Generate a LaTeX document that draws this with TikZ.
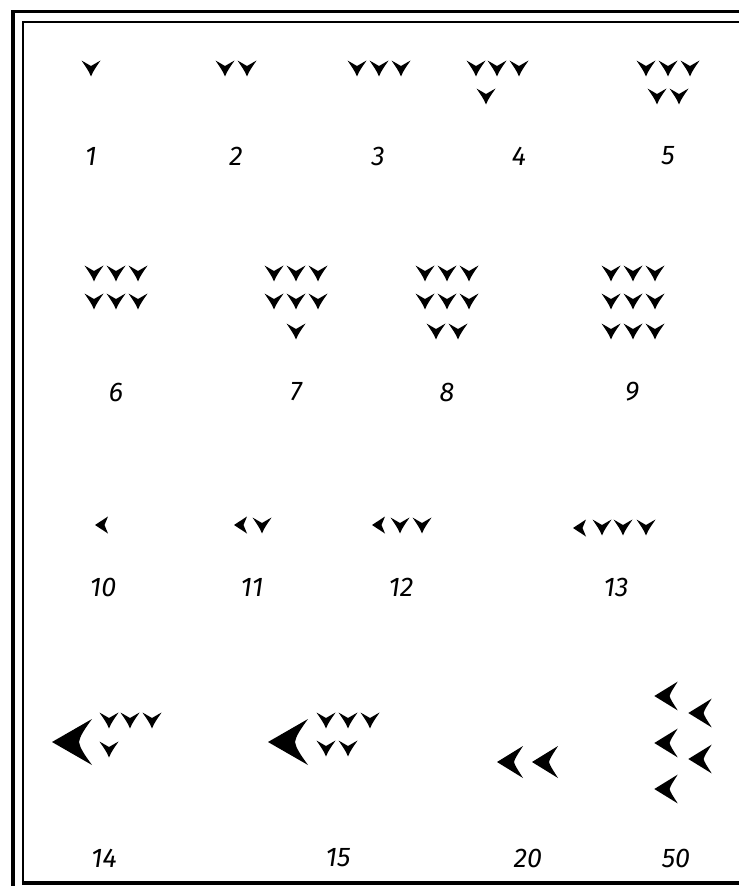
\documentclass[tikz,border=0pt]{standalone}
\usepackage{fontspec}
\newfontfamily\labfont{Fira Sans}
\begin{document}
\begin{tikzpicture}[x=1pt,y=-1pt,
  lab/.style={font=\fontsize{27}{27}\selectfont\labfont\itshape, inner sep=0pt, anchor=center},
  frameline/.style={line cap=butt},
  vw/.pic={\fill (-9.5,-7.5) -- (0,-2) -- (9.5,-7.5) .. controls (6,-2) and (2.5,2) .. (0,8.5) .. controls (-2.5,2) and (-6,-2) .. cycle;},
  hw/.pic={\fill (-7,0) -- (6,-8.5) .. controls (3.5,-4) .. (2.5,0) .. controls (3.5,4) .. (6,8.5) -- cycle;},
  bigw/.pic={\fill (-20,0) -- (20,-23) .. controls (12,-12) and (8,-6) .. (7,0) .. controls (8,6) and (12,12) .. (20,23) -- cycle;},
  midw/.pic={\fill (-13,0) -- (13,-16) .. controls (8,-8) and (5,-4) .. (4,0) .. controls (5,4) and (8,8) .. (13,16) -- cycle;},
]
\useasboundingbox (0,0) rectangle (739,886);
% frame
\draw[frameline, line width=4pt] (13,10) -- (13,886);
\draw[frameline, line width=3pt] (11,11.5) -- (739,11.5);
\draw[frameline, line width=2.5pt] (23,21) -- (23,884);
\draw[frameline, line width=2.5pt] (22,22) -- (739,22);
\draw[frameline, line width=4pt] (21.75,883) -- (739,883);

% row 1
\pic at (91,68) {vw};
\foreach \x in {225,247} \pic at (\x,68) {vw};
\foreach \x in {357,379,401} \pic at (\x,68) {vw};
\foreach \x in {476,497,519} \pic at (\x,68) {vw};
\pic at (486,96) {vw};
\foreach \x in {646,668,690} \pic at (\x,68) {vw};
\foreach \x in {657,679} \pic at (\x,96) {vw};
\node[lab] (l1) at (91,156) {1};
\node[lab] (l2) at (236,156) {2};
\node[lab] (l3) at (378,156) {3};
\node[lab] (l4) at (519,156) {4};
\node[lab] (l5) at (668,156) {5};

% row 2
\foreach \x in {94,116,138} {\pic at (\x,273) {vw}; \pic at (\x,301) {vw};}
\foreach \x in {274,296,318} {\pic at (\x,273) {vw}; \pic at (\x,301) {vw};}
\pic at (296,331) {vw};
\foreach \x in {425,447,469} {\pic at (\x,273) {vw}; \pic at (\x,301) {vw};}
\foreach \x in {436,458} \pic at (\x,331) {vw};
\foreach \x in {611,633,655} {\pic at (\x,273) {vw}; \pic at (\x,301) {vw}; \pic at (\x,331) {vw};}
\node[lab] (l6) at (116,392) {6};
\node[lab] (l7) at (296,392) {7};
\node[lab] (l8) at (447,392) {8};
\node[lab] (l9) at (632,392) {9};

% row 3
\pic at (102,525) {hw};
\pic at (241,525) {hw};
\pic at (262,525) {vw};
\pic at (379,525) {hw};
\foreach \x in {400,422} \pic at (\x,525) {vw};
\pic at (580,528) {hw};
\foreach \x in {602,623,646} \pic at (\x,527) {vw};
\node[lab] (l10) at (103,587) {10};
\node[lab] (l11) at (252,587) {11};
\node[lab] (l12) at (401,587) {12};
\node[lab] (l13) at (616,587) {13};

% row 4
\pic at (72,742) {bigw};
\foreach \x in {109,130,152} \pic at (\x,720) {vw};
\pic at (109,749) {vw};
\pic at (288,742) {bigw};
\foreach \x in {326,348,370} \pic at (\x,720) {vw};
\foreach \x in {326,348} \pic at (\x,748) {vw};
\pic at (510,762) {midw};
\pic at (545,762) {midw};
\pic[scale=0.9] at (666,696) {midw};
\pic[scale=0.9] at (700,713) {midw};
\pic[scale=0.9] at (666,743) {midw};
\pic[scale=0.9] at (700,759) {midw};
\pic[scale=0.9] at (666,789) {midw};
\node[lab] (l14) at (104,858) {14};
\node[lab] (l15) at (338,858) {15};
\node[lab] (l20) at (528,858) {20};
\node[lab] (l50) at (676,858) {50};
\end{tikzpicture}
\end{document}
